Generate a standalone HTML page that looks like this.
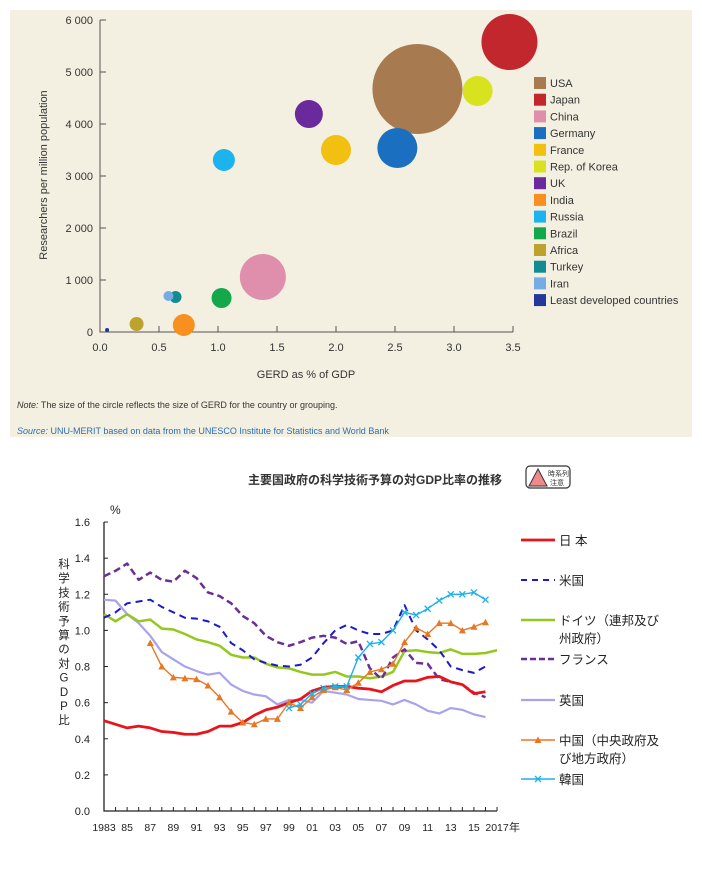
<!DOCTYPE html>
<html><head><meta charset="utf-8"><style>
body{margin:0;background:#fff;width:702px;height:869px;overflow:hidden;font-family:"Liberation Sans","Noto Sans CJK JP",sans-serif}
svg text{font-family:"Liberation Sans","Noto Sans CJK JP",sans-serif}
</style></head><body>
<svg id="svg" width="702" height="869" viewBox="0 0 702 869" xmlns="http://www.w3.org/2000/svg">
<rect x="10" y="10" width="682" height="427" fill="#f4f0e1"/>
<g id="topChart"></g>
<text x="17" y="408" font-size="9" fill="#333"><tspan font-style="italic">Note:</tspan> The size of the circle reflects the size of GERD for the country or grouping.</text>
<text x="17" y="434" font-size="9" fill="#2a6db5"><tspan font-style="italic">Source:</tspan> UNU-MERIT based on data from the UNESCO Institute for Statistics and World Bank</text>
<g id="botChart"></g>
</svg>
<script>
// ---- Bubble chart data ----
const bubbleNames=["USA","Japan","China","Germany","France","Rep. of Korea","UK","India","Russia","Brazil","Africa","Turkey","Iran","Least developed countries"];
const bubbleColors=["#a87a50","#c1272d","#df8fac","#1a6fc0","#f2c010","#d9e21f","#6a2a9c","#f7901e","#1cb3ee","#14a84a","#bda22e","#138b92","#74ade3","#22399a"];
const gerdX=[2.69,3.47,1.38,2.52,2.0,3.20,1.77,0.71,1.05,1.03,0.31,0.64,0.58,0.06];
const researchersY=[4673,5577,1058,3538,3500,4635,4192,135,3308,654,154,673,692,38];
const bubbleSize=[45,28,23,20,15,15,14,11,11,10,7,6,5,2];
const xTicks=[0,0.5,1,1.5,2,2.5,3,3.5];
const yTicks=[0,1000,2000,3000,4000,5000,6000];
// ---- Line chart data ----
const years=[];for(let y=1983;y<=2017;y++)years.push(y);
const japan=[0.50,0.48,0.46,0.47,0.46,0.44,0.435,0.425,0.425,0.44,0.47,0.47,0.49,0.53,0.56,0.575,0.60,0.62,0.665,0.685,0.69,0.69,0.68,0.675,0.66,0.695,0.72,0.72,0.74,0.745,0.715,0.70,0.65,0.66];
const usa=[1.07,1.10,1.15,1.16,1.17,1.13,1.10,1.07,1.065,1.05,1.02,0.93,0.89,0.84,0.82,0.805,0.80,0.81,0.85,0.93,1.00,1.03,1.00,0.98,0.98,1.00,1.14,1.00,0.95,0.89,0.80,0.78,0.765,0.80];
const germany=[1.09,1.05,1.09,1.05,1.06,1.01,1.005,0.98,0.95,0.935,0.915,0.865,0.85,0.85,0.815,0.795,0.79,0.77,0.755,0.755,0.77,0.745,0.745,0.735,0.745,0.77,0.885,0.89,0.88,0.875,0.895,0.87,0.87,0.875,0.89];
const france=[1.30,1.33,1.37,1.28,1.32,1.28,1.27,1.33,1.29,1.21,1.19,1.15,1.08,1.04,0.97,0.935,0.915,0.935,0.96,0.97,0.96,0.925,0.94,0.79,0.73,0.85,0.895,0.82,0.815,0.73,0.715,0.70,0.655,0.63];
const uk=[1.17,1.165,1.09,1.04,0.97,0.88,0.84,0.80,0.775,0.755,0.765,0.70,0.665,0.645,0.635,0.59,0.615,0.615,0.60,0.665,0.655,0.645,0.62,0.615,0.61,0.59,0.615,0.59,0.555,0.54,0.57,0.56,0.535,0.52];
const chinaStart=1987;
const china=[0.93,0.80,0.74,0.735,0.73,0.695,0.63,0.55,0.49,0.48,0.51,0.51,0.60,0.57,0.63,0.67,0.685,0.67,0.71,0.77,0.785,0.815,0.935,1.015,0.98,1.04,1.04,1.00,1.02,1.045];
const koreaStart=1999;
const korea=[0.57,0.59,0.65,0.68,0.69,0.69,0.85,0.925,0.935,1.0,1.10,1.085,1.12,1.165,1.20,1.20,1.21,1.17];
const lineYTicks=[0,0.2,0.4,0.6,0.8,1.0,1.2,1.4,1.6];
const xLabels=["1983","85","87","89","91","93","95","97","99","01","03","05","07","09","11","13","15","2017"];

const NS="http://www.w3.org/2000/svg";
function mk(parent,tag,attrs,txt){const e=document.createElementNS(NS,tag);for(const k in attrs)e.setAttribute(k,attrs[k]);if(txt!==undefined)e.textContent=txt;parent.appendChild(e);return e;}

// ---- Bubble chart ----
const topG=document.getElementById('topChart');
const bx=v=>100+v*118, by=v=>332-v*0.052;
let ax=mk(topG,'path',{d:`M100,${by(6000)} V332 H513`,stroke:'#555',fill:'none','stroke-width':1});


yTicks.forEach(t=>{
  let tk=mk(topG,'line',{x1:100,x2:106,y1:by(t),y2:by(t),stroke:'#555'});
  
  
  let l=mk(topG,'text',{x:93,y:by(t)+4,'font-size':11,'text-anchor':'end',fill:'#333'},t===0?'0':(t/1000)+' 000');
  
  
});
xTicks.forEach(t=>{
  let tk=mk(topG,'line',{x1:bx(t),x2:bx(t),y1:332,y2:326,stroke:'#555'});
  
  
  let l=mk(topG,'text',{x:bx(t),y:351,'font-size':11,'text-anchor':'middle',fill:'#333'},t.toFixed(1));
  
  
});
let xt=mk(topG,'text',{x:306,y:378,'font-size':11,'text-anchor':'middle',fill:'#333'},'GERD as % of GDP');


let yt=mk(topG,'text',{x:0,y:0,'font-size':11,'text-anchor':'middle',fill:'#333',transform:'translate(47,175) rotate(-90)'},'Researchers per million population');


bubbleNames.forEach((n,i)=>{
  let c=mk(topG,'circle',{cx:bx(gerdX[i]),cy:by(researchersY[i]),r:bubbleSize[i],fill:bubbleColors[i]});
  
  
  const lyy=83+i*16.7;
  let s=mk(topG,'rect',{x:534,y:lyy-6,width:12,height:12,fill:bubbleColors[i]});
  
  
  let t=mk(topG,'text',{x:550,y:lyy+4,'font-size':11,fill:'#333'},n);
  
  
});

// ---- Line chart ----
const botG=document.getElementById('botChart');
const lx=y=>104+(y-1983)*11.56, ly=v=>811-v*180.6;
let ti=mk(botG,'text',{x:375,y:484,'font-size':12,'font-weight':'bold','text-anchor':'middle',fill:'#333'},'主要国政府の科学技術予算の対GDP比率の推移');


let ib=mk(botG,'rect',{x:526,y:466,width:44,height:22,rx:4,fill:'#fff',stroke:'#333','stroke-width':1.2});


let tri=mk(botG,'path',{d:'M529,486 L538,469 L547,486 Z',fill:'#f08a8a',stroke:'#333','stroke-width':1});


let b1=mk(botG,'text',{x:548,y:476,'font-size':7,fill:'#333'},'時系列');


let b2=mk(botG,'text',{x:550,y:485,'font-size':7,fill:'#333'},'注意');


let pc=mk(botG,'text',{x:110,y:514,'font-size':12,fill:'#222'},'%');


const ylab="科学技術予算の対GDP比";
[...ylab].forEach((ch,i)=>{
  let t=mk(botG,'text',{x:64,y:568+i*14.2,'font-size':11.5,'text-anchor':'middle',fill:'#222'},ch);
  
  
});
let ax2=mk(botG,'path',{d:`M104,${ly(1.6)} V811 H497`,stroke:'#222',fill:'none','stroke-width':1.3});


lineYTicks.forEach(t=>{
  let tk=mk(botG,'line',{x1:104,x2:108,y1:ly(t),y2:ly(t),stroke:'#222'});
  
  
  let l=mk(botG,'text',{x:90,y:ly(t)+4,'font-size':11,'text-anchor':'end',fill:'#222'},t.toFixed(1));
  
  
});
years.forEach(y=>{
  let tk=mk(botG,'line',{x1:lx(y),x2:lx(y),y1:811,y2:807,stroke:'#222'});
  
  
});
xLabels.forEach((s,i)=>{
  const yr=i===xLabels.length-1?2017:1983+i*2;
  let l=mk(botG,'text',{x:lx(yr),y:831,'font-size':10.5,'text-anchor':'middle',fill:'#222'},s);
  
  
});
let nen=mk(botG,'text',{x:509,y:831,'font-size':11,fill:'#222'},'年');



function series(vals,start,color,width,dash,name){
  const pts=vals.map((v,i)=>[lx(start+i),ly(v)]);
  let p=mk(botG,'polyline',{points:pts.map(p=>p.join(',')).join(' '),fill:'none',stroke:color,'stroke-width':width,'stroke-dasharray':dash||'none','stroke-linejoin':'round'});
  
  
  return pts;
}
series(uk,1983,'#a9a3ee',2.2,null,'uk');
series(germany,1983,'#94c81e',2.5,null,'germany');
series(usa,1983,'#1a1acc',2,'7,5','usa');
series(france,1983,'#6b2e99',2.5,'7,4','france');
series(japan,1983,'#e8141c',2.8,null,'japan');
const cp=series(china,chinaStart,'#e87722',1.4,null,'china');
cp.forEach(p=>{
  let m=mk(botG,'path',{d:`M${p[0]-3.5},${p[1]+3} L${p[0]},${p[1]-3.5} L${p[0]+3.5},${p[1]+3} Z`,fill:'#e87722'});
  
  
});
const kp=series(korea,koreaStart,'#1eb0ea',1.4,null,'korea');
kp.forEach(p=>{
  let m=mk(botG,'path',{d:`M${p[0]-3},${p[1]-3} L${p[0]+3},${p[1]+3} M${p[0]-3},${p[1]+3} L${p[0]+3},${p[1]-3}`,stroke:'#1eb0ea','stroke-width':1.3});
  
  
});

// legend
const legItems=[
 {y:540,c:'#e8141c',w:2.8,d:null,t:['日 本']},
 {y:580,c:'#1a1acc',w:2,d:'6,5',t:['米国']},
 {y:620,c:'#94c81e',w:2.5,d:null,t:['ドイツ（連邦及び','州政府）']},
 {y:659,c:'#6b2e99',w:2.5,d:'6,3',t:['フランス']},
 {y:700,c:'#a9a3ee',w:2.2,d:null,t:['英国']},
 {y:740,c:'#e87722',w:1.4,d:null,t:['中国（中央政府及','び地方政府）'],m:'tri'},
 {y:779,c:'#1eb0ea',w:1.4,d:null,t:['韓国'],m:'x'}
];
legItems.forEach(it=>{
  let l=mk(botG,'line',{x1:521,x2:555,y1:it.y,y2:it.y,stroke:it.c,'stroke-width':it.w,'stroke-dasharray':it.d||'none'});
  
  
  if(it.m==='tri'){let m=mk(botG,'path',{d:`M534.5,${it.y+3} L538,${it.y-3.5} L541.5,${it.y+3} Z`,fill:it.c});}
  if(it.m==='x'){let m=mk(botG,'path',{d:`M535,${it.y-3} L541,${it.y+3} M535,${it.y+3} L541,${it.y-3}`,stroke:it.c,'stroke-width':1.3});}
  it.t.forEach((s,j)=>{
    let t=mk(botG,'text',{x:559,y:it.y+5+j*18,'font-size':12.5,fill:'#222'},s);
    
    
  });
});
</script>
</body></html>
